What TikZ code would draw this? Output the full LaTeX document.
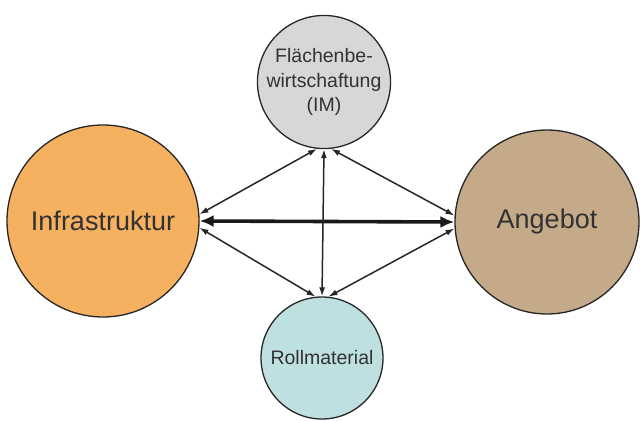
\documentclass[tikz,border=0pt]{standalone}
\usepackage{fontspec}
\setmainfont{Liberation Sans}
\usetikzlibrary{arrows.meta}
\definecolor{orangeF}{RGB}{245,176,96}
\definecolor{tanF}{RGB}{197,170,138}
\definecolor{grayF}{RGB}{215,215,217}
\definecolor{tealF}{RGB}{190,224,224}
\definecolor{txt}{RGB}{50,50,50}
\tikzset{
  bubble/.style={circle, draw=black!85, line width=1.3pt, inner sep=0pt, text=txt},
  thinarrow/.style={line width=1.5pt, draw=black!85, {Latex[length=9pt,width=6pt]}-{Latex[length=9pt,width=6pt]}},
  thickarrow/.style={line width=3.6pt, draw=black!90, {Latex[length=14pt,width=12pt]}-{Latex[length=14pt,width=12pt]}}
}
\begin{document}
\begin{tikzpicture}[x=1pt,y=-1pt]
\useasboundingbox (0,0) rectangle (641,421);
\node[bubble, fill=orangeF, minimum size=192pt, font=\fontsize{27}{30}\selectfont] (L) at (103,221) {Infrastruktur};
\node[bubble, fill=tanF, minimum size=184pt, font=\fontsize{27}{30}\selectfont] (R) at (547,222) {Angebot};
\node[bubble, fill=grayF, minimum size=126pt, align=center, font=\fontsize{19.5}{24.5}\selectfont] (T) at (324,82) {Flächenbe-\\wirtschaftung\\(IM)};
\node[bubble, fill=tealF, minimum size=122pt, font=\fontsize{19.5}{24}\selectfont] (B) at (322,358) {Rollmaterial};
\draw[thickarrow] (L.east) -- (R.west);
\draw[thinarrow] (L.4) -- (T.-96);
\draw[thinarrow] (L.-4) -- (B.96);
\draw[thinarrow] (R.176) -- (T.-84);
\draw[thinarrow] (R.184) -- (B.84);
\draw[thinarrow] (T.south) -- (B.north);
\end{tikzpicture}
\end{document}
